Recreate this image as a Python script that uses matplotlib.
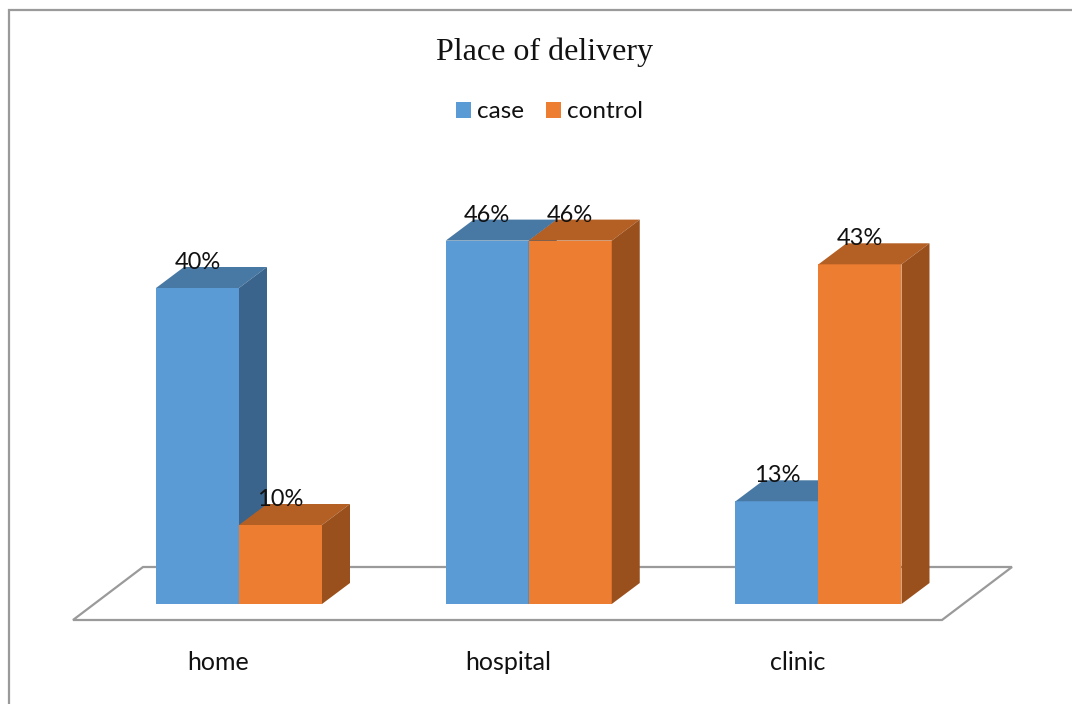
"""Place of delivery: pseudo-3D clustered bars for cases and controls."""

import matplotlib.pyplot as plt
from matplotlib.patches import Polygon

W, H = 1072, 704

categories = ["home", "hospital", "clinic"]
series_names = ["case", "control"]
case_values = [40, 46, 13]
control_values = [10, 46, 43]

FRONT = {"case": "#5B9BD5", "control": "#ED7D31"}
TOP = {"case": "#4878A4", "control": "#B45F24"}
SIDE = {"case": "#3A648B", "control": "#9A501C"}
GREY = "#9A9A9A"

# plot scale, pixels per unit on each axis
PX_PER_CAT = 289.75
PX_PER_PCT = 7.9
X0_PX, Y0_PX = 239, 604
BAR_W = 83 / PX_PER_CAT
DX = 28 / PX_PER_CAT
DY = 21 / PX_PER_PCT


def to_x(px):
    return (px - X0_PX) / PX_PER_CAT


def to_y(py):
    return (Y0_PX - py) / PX_PER_PCT


fig = plt.figure(figsize=(W / 100, H / 100), dpi=100, facecolor="white")
ax = fig.add_axes([0, 0, 1, 1])
ax.set_xlim(to_x(0), to_x(W))
ax.set_ylim(to_y(H), to_y(0))
ax.axis("off")

# outer chart frame, open on the right and at the bottom
ax.plot([to_x(9), to_x(9), to_x(W)], [to_y(H), to_y(10), to_y(10)],
        color=GREY, lw=1.6, solid_joinstyle="miter")

# floor of the 3D box
floor_px = [(73, 620), (942, 620), (1012, 567), (143, 567)]
floor = [(to_x(a), to_y(b)) for a, b in floor_px]
ax.add_patch(Polygon(floor, closed=True, fc="white", ec=GREY, lw=1.6, zorder=1))

handles = []
for i, cat in enumerate(categories):
    ax.text(i - 0.072, to_y(663), cat, ha="center", va="center",
            fontsize=18, family="Lato", color="#111111", zorder=6)
    for name, vals, left in zip(series_names, [case_values, control_values], [i - BAR_W, i]):
        v = vals[i]
        right = left + BAR_W
        bar = ax.bar(left, v, width=BAR_W, align="edge", color=FRONT[name], zorder=3, label=name)
        if i == 0:
            handles.append(bar[0])
        ax.add_patch(Polygon([(left, v), (right, v), (right + DX, v + DY), (left + DX, v + DY)],
                             fc=TOP[name], ec="none", zorder=3))
        ax.add_patch(Polygon([(right, 0), (right + DX, DY), (right + DX, v + DY), (right, v)],
                             fc=SIDE[name], ec="none", zorder=3))

# value labels go last so they sit over the bar tops
for i in range(len(categories)):
    for vals, left in zip([case_values, control_values], [i - BAR_W, i]):
        ax.text(left + BAR_W / 2, vals[i] + 25.5 / PX_PER_PCT, f"{vals[i]}%", ha="center", va="center",
                fontsize=17, family="Lato", color="#111111", zorder=6)

ax.text(to_x(544.5), to_y(52), "Place of delivery", ha="center", va="center",
        fontsize=23, family="Liberation Serif", color="#111111")

leg = ax.legend(handles=handles, labels=series_names, loc="center", ncol=2, frameon=False,
                bbox_to_anchor=(549.5 / W, 1 - 112 / H), bbox_transform=fig.transFigure,
                prop={"family": "Lato", "size": 17.5}, labelcolor="#111111",
                handlelength=0.62, handleheight=0.62, handletextpad=0.25, columnspacing=0.9)

fig.savefig("out.png", dpi=100)
plt.close(fig)
